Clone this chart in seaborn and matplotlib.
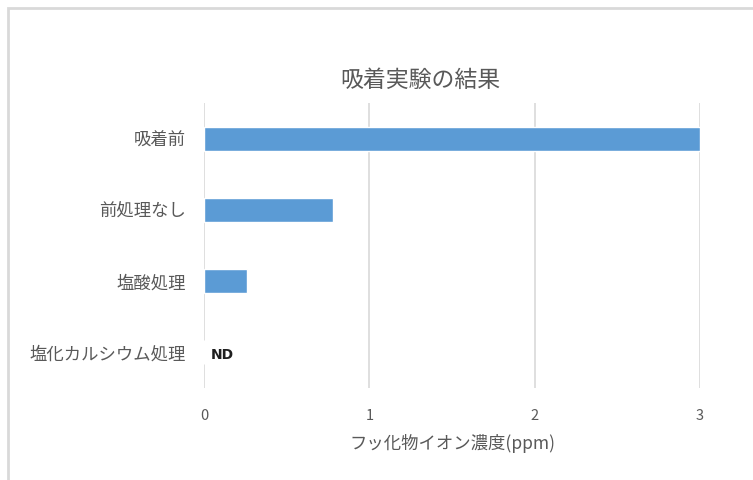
import matplotlib
matplotlib.use("Agg")
import matplotlib.pyplot as plt
from matplotlib.patches import Rectangle
import pandas as pd
import seaborn as sns

# Fluoride concentration after each adsorption treatment
categories = ["吸着前", "前処理なし", "塩酸処理", "塩化カルシウム処理"]
values_ppm = [3.0, 0.78, 0.26, 0.0]
value_labels = [None, None, None, "ND"]
x_ticks = [0, 1, 2, 3]

title_text = "吸着実験の結果"
x_label = "フッ化物イオン濃度(ppm)"

sns.set_theme(style="white")
plt.rcParams["font.family"] = ["Noto Sans CJK JP", "DejaVu Sans"]

text_gray = "#595959"
grid_gray = "#d9d9d9"
bar_blue = "#5b9bd5"

df = pd.DataFrame({"処理": categories, "濃度": values_ppm})

fig = plt.figure(figsize=(7.53, 4.80), dpi=100)
fig.patch.set_facecolor("white")

# chart-area frame (runs off the right and bottom edges)
fig.patches.append(Rectangle((8 / 753, -0.05), 1.2, 1 - 8 / 480 + 0.05,
                             transform=fig.transFigure, fill=False,
                             edgecolor="#d9d9d9", linewidth=2.0, zorder=0))

ax = fig.add_axes([204 / 753, 1 - 388 / 480, (700 - 204) / 753, (388 - 103) / 480])
sns.barplot(data=df, y="処理", x="濃度", order=categories, orient="h",
            color=bar_blue, width=0.34, saturation=1, ax=ax, zorder=3)

ax.set_xlim(0, 3)
ax.set_ylim(3.5, -0.5)
ax.set_xticks(x_ticks)
ax.set_xticklabels([str(t) for t in x_ticks])
ax.grid(axis="x", color=grid_gray, linewidth=1.2, zorder=0)
ax.grid(axis="y", visible=False)
for s in ax.spines.values():
    s.set_visible(False)
ax.tick_params(axis="x", length=0, pad=15, labelsize=10.5, labelcolor=text_gray)
ax.tick_params(axis="y", length=0, pad=13, labelsize=12.5, labelcolor=text_gray)
ax.set_ylabel("")
ax.set_xlabel(x_label, fontsize=12.5, color=text_gray, labelpad=8)

for i, (v, lab) in enumerate(zip(values_ppm, value_labels)):
    if lab:
        ax.annotate(lab, xy=(v, i), xytext=(5, -2), textcoords="offset points",
                    ha="left", va="center", fontsize=10, fontweight="bold",
                    color="#1f1f1f", family=["DejaVu Sans"])

fig.text(420 / 753, 1 - 80 / 480, title_text, ha="center", va="center",
         fontsize=16.5, color=text_gray)

fig.savefig("out.png", dpi=100, facecolor="white")
